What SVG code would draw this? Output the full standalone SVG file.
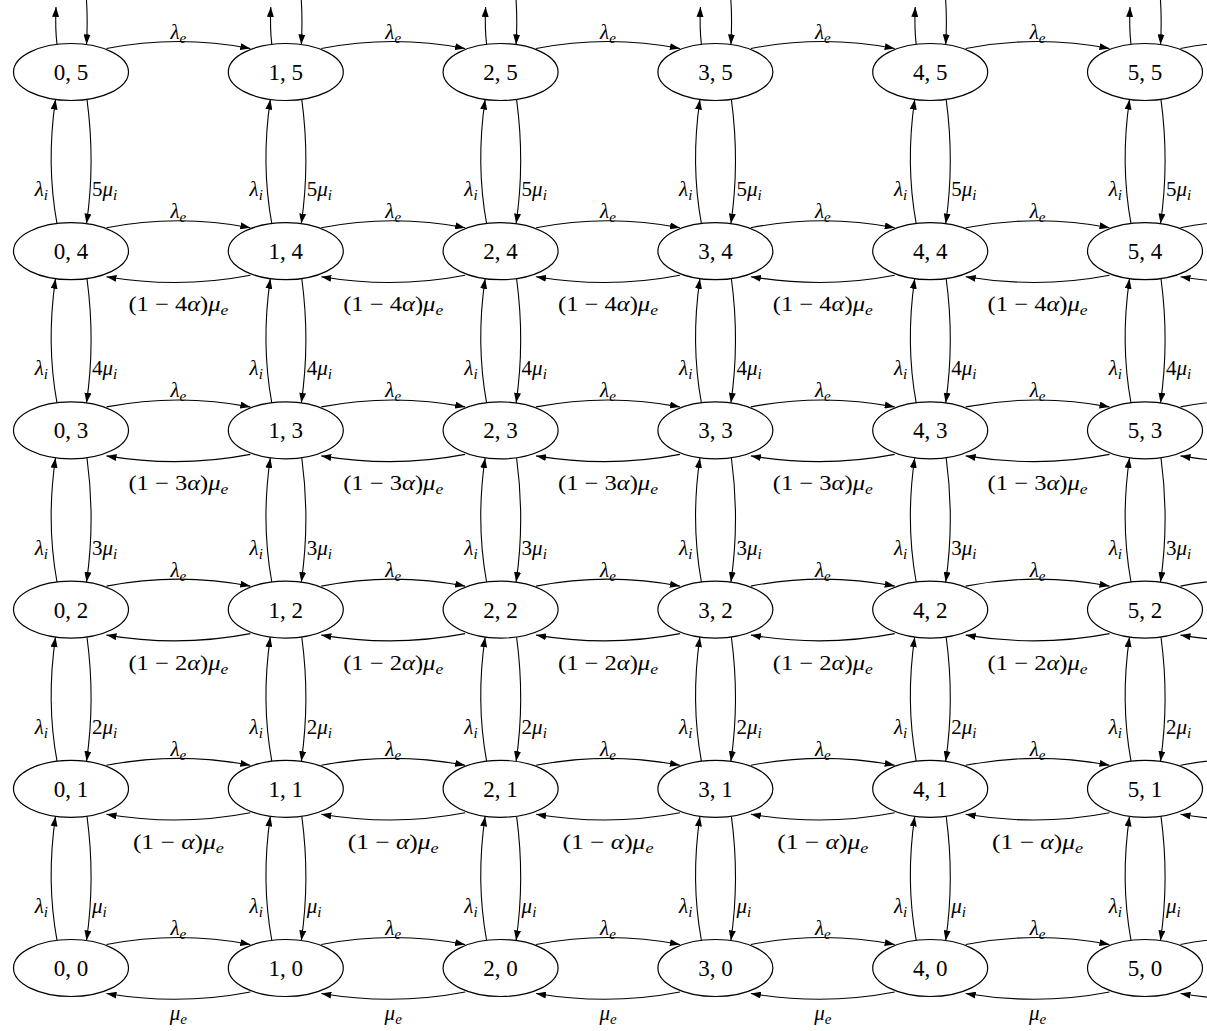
<svg xmlns="http://www.w3.org/2000/svg" width="1207" height="1031" viewBox="0 0 1207 1031">
<style>
.node ellipse{fill:#fff;stroke:#000;stroke-width:1.2}
.node text{font-family:"Liberation Serif","Times New Roman",serif;font-size:23px;text-anchor:middle;fill:#000}
#edges path{fill:none;stroke:#000;stroke-width:1.1;marker-end:url(#ah)}
.l{font-family:"Liberation Serif","Times New Roman",serif;font-style:italic;font-size:21px;fill:#000}
.s{font-size:15px}
.u{font-style:normal}
.m{text-anchor:middle}
.e{text-anchor:end}
</style>
<defs>
<marker id="ah" viewBox="0 0 10 7" refX="10" refY="3.5" markerWidth="10" markerHeight="7" markerUnits="userSpaceOnUse" orient="auto"><path d="M0,0 L10,3.5 L0,7 z" fill="#000"/></marker>
</defs>
<rect width="1207" height="1031" fill="#fff"/>
<g id="edges">
<path d="M57,44.4 c-1.5,-12 -1.5,-25 -1,-37.4"/><path d="M86,-6 c1.5,17 1.5,33 0.5,50.4"/>
<path d="M271.8,44.4 c-1.5,-12 -1.5,-25 -1,-37.4"/><path d="M300.8,-6 c1.5,17 1.5,33 0.5,50.4"/>
<path d="M486.6,44.4 c-1.5,-12 -1.5,-25 -1,-37.4"/><path d="M515.6,-6 c1.5,17 1.5,33 0.5,50.4"/>
<path d="M701.4,44.4 c-1.5,-12 -1.5,-25 -1,-37.4"/><path d="M730.4,-6 c1.5,17 1.5,33 0.5,50.4"/>
<path d="M916.2,44.4 c-1.5,-12 -1.5,-25 -1,-37.4"/><path d="M945.2,-6 c1.5,17 1.5,33 0.5,50.4"/>
<path d="M1131,44.4 c-1.5,-12 -1.5,-25 -1,-37.4"/><path d="M1160,-6 c1.5,17 1.5,33 0.5,50.4"/>
<path d="M57,940.4 c-7.5,-41 -7.5,-83 -1.5,-124"/><path d="M87,816.4 c5.5,41 5.5,83 -0.5,124"/>
<path d="M57,761.2 c-7.5,-41 -7.5,-83 -1.5,-124"/><path d="M87,637.2 c5.5,41 5.5,83 -0.5,124"/>
<path d="M57,582 c-7.5,-41 -7.5,-83 -1.5,-124"/><path d="M87,458 c5.5,41 5.5,83 -0.5,124"/>
<path d="M57,402.8 c-7.5,-41 -7.5,-83 -1.5,-124"/><path d="M87,278.8 c5.5,41 5.5,83 -0.5,124"/>
<path d="M57,223.6 c-7.5,-41 -7.5,-83 -1.5,-124"/><path d="M87,99.6 c5.5,41 5.5,83 -0.5,124"/>
<path d="M271.8,940.4 c-7.5,-41 -7.5,-83 -1.5,-124"/><path d="M301.8,816.4 c5.5,41 5.5,83 -0.5,124"/>
<path d="M271.8,761.2 c-7.5,-41 -7.5,-83 -1.5,-124"/><path d="M301.8,637.2 c5.5,41 5.5,83 -0.5,124"/>
<path d="M271.8,582 c-7.5,-41 -7.5,-83 -1.5,-124"/><path d="M301.8,458 c5.5,41 5.5,83 -0.5,124"/>
<path d="M271.8,402.8 c-7.5,-41 -7.5,-83 -1.5,-124"/><path d="M301.8,278.8 c5.5,41 5.5,83 -0.5,124"/>
<path d="M271.8,223.6 c-7.5,-41 -7.5,-83 -1.5,-124"/><path d="M301.8,99.6 c5.5,41 5.5,83 -0.5,124"/>
<path d="M486.6,940.4 c-7.5,-41 -7.5,-83 -1.5,-124"/><path d="M516.6,816.4 c5.5,41 5.5,83 -0.5,124"/>
<path d="M486.6,761.2 c-7.5,-41 -7.5,-83 -1.5,-124"/><path d="M516.6,637.2 c5.5,41 5.5,83 -0.5,124"/>
<path d="M486.6,582 c-7.5,-41 -7.5,-83 -1.5,-124"/><path d="M516.6,458 c5.5,41 5.5,83 -0.5,124"/>
<path d="M486.6,402.8 c-7.5,-41 -7.5,-83 -1.5,-124"/><path d="M516.6,278.8 c5.5,41 5.5,83 -0.5,124"/>
<path d="M486.6,223.6 c-7.5,-41 -7.5,-83 -1.5,-124"/><path d="M516.6,99.6 c5.5,41 5.5,83 -0.5,124"/>
<path d="M701.4,940.4 c-7.5,-41 -7.5,-83 -1.5,-124"/><path d="M731.4,816.4 c5.5,41 5.5,83 -0.5,124"/>
<path d="M701.4,761.2 c-7.5,-41 -7.5,-83 -1.5,-124"/><path d="M731.4,637.2 c5.5,41 5.5,83 -0.5,124"/>
<path d="M701.4,582 c-7.5,-41 -7.5,-83 -1.5,-124"/><path d="M731.4,458 c5.5,41 5.5,83 -0.5,124"/>
<path d="M701.4,402.8 c-7.5,-41 -7.5,-83 -1.5,-124"/><path d="M731.4,278.8 c5.5,41 5.5,83 -0.5,124"/>
<path d="M701.4,223.6 c-7.5,-41 -7.5,-83 -1.5,-124"/><path d="M731.4,99.6 c5.5,41 5.5,83 -0.5,124"/>
<path d="M916.2,940.4 c-7.5,-41 -7.5,-83 -1.5,-124"/><path d="M946.2,816.4 c5.5,41 5.5,83 -0.5,124"/>
<path d="M916.2,761.2 c-7.5,-41 -7.5,-83 -1.5,-124"/><path d="M946.2,637.2 c5.5,41 5.5,83 -0.5,124"/>
<path d="M916.2,582 c-7.5,-41 -7.5,-83 -1.5,-124"/><path d="M946.2,458 c5.5,41 5.5,83 -0.5,124"/>
<path d="M916.2,402.8 c-7.5,-41 -7.5,-83 -1.5,-124"/><path d="M946.2,278.8 c5.5,41 5.5,83 -0.5,124"/>
<path d="M916.2,223.6 c-7.5,-41 -7.5,-83 -1.5,-124"/><path d="M946.2,99.6 c5.5,41 5.5,83 -0.5,124"/>
<path d="M1131,940.4 c-7.5,-41 -7.5,-83 -1.5,-124"/><path d="M1161,816.4 c5.5,41 5.5,83 -0.5,124"/>
<path d="M1131,761.2 c-7.5,-41 -7.5,-83 -1.5,-124"/><path d="M1161,637.2 c5.5,41 5.5,83 -0.5,124"/>
<path d="M1131,582 c-7.5,-41 -7.5,-83 -1.5,-124"/><path d="M1161,458 c5.5,41 5.5,83 -0.5,124"/>
<path d="M1131,402.8 c-7.5,-41 -7.5,-83 -1.5,-124"/><path d="M1161,278.8 c5.5,41 5.5,83 -0.5,124"/>
<path d="M1131,223.6 c-7.5,-41 -7.5,-83 -1.5,-124"/><path d="M1161,99.6 c5.5,41 5.5,83 -0.5,124"/>
<path d="M106.5,944.5 c48,-9.3 95.8,-9.3 143.8,0"/><path d="M321.3,944.5 c48,-9.3 95.8,-9.3 143.8,0"/><path d="M536.1,944.5 c48,-9.3 95.8,-9.3 143.8,0"/><path d="M750.9,944.5 c48,-9.3 95.8,-9.3 143.8,0"/><path d="M965.7,944.5 c48,-9.3 95.8,-9.3 143.8,0"/><path d="M1180.5,944.5 c48,-9.3 95.8,-9.3 143.8,0"/>
<path d="M106.5,765.3 c48,-9.3 95.8,-9.3 143.8,0"/><path d="M321.3,765.3 c48,-9.3 95.8,-9.3 143.8,0"/><path d="M536.1,765.3 c48,-9.3 95.8,-9.3 143.8,0"/><path d="M750.9,765.3 c48,-9.3 95.8,-9.3 143.8,0"/><path d="M965.7,765.3 c48,-9.3 95.8,-9.3 143.8,0"/><path d="M1180.5,765.3 c48,-9.3 95.8,-9.3 143.8,0"/>
<path d="M106.5,586.1 c48,-9.3 95.8,-9.3 143.8,0"/><path d="M321.3,586.1 c48,-9.3 95.8,-9.3 143.8,0"/><path d="M536.1,586.1 c48,-9.3 95.8,-9.3 143.8,0"/><path d="M750.9,586.1 c48,-9.3 95.8,-9.3 143.8,0"/><path d="M965.7,586.1 c48,-9.3 95.8,-9.3 143.8,0"/><path d="M1180.5,586.1 c48,-9.3 95.8,-9.3 143.8,0"/>
<path d="M106.5,406.9 c48,-9.3 95.8,-9.3 143.8,0"/><path d="M321.3,406.9 c48,-9.3 95.8,-9.3 143.8,0"/><path d="M536.1,406.9 c48,-9.3 95.8,-9.3 143.8,0"/><path d="M750.9,406.9 c48,-9.3 95.8,-9.3 143.8,0"/><path d="M965.7,406.9 c48,-9.3 95.8,-9.3 143.8,0"/><path d="M1180.5,406.9 c48,-9.3 95.8,-9.3 143.8,0"/>
<path d="M106.5,227.7 c48,-9.3 95.8,-9.3 143.8,0"/><path d="M321.3,227.7 c48,-9.3 95.8,-9.3 143.8,0"/><path d="M536.1,227.7 c48,-9.3 95.8,-9.3 143.8,0"/><path d="M750.9,227.7 c48,-9.3 95.8,-9.3 143.8,0"/><path d="M965.7,227.7 c48,-9.3 95.8,-9.3 143.8,0"/><path d="M1180.5,227.7 c48,-9.3 95.8,-9.3 143.8,0"/>
<path d="M106.5,48.5 c48,-9.3 95.8,-9.3 143.8,0"/><path d="M321.3,48.5 c48,-9.3 95.8,-9.3 143.8,0"/><path d="M536.1,48.5 c48,-9.3 95.8,-9.3 143.8,0"/><path d="M750.9,48.5 c48,-9.3 95.8,-9.3 143.8,0"/><path d="M965.7,48.5 c48,-9.3 95.8,-9.3 143.8,0"/><path d="M1180.5,48.5 c48,-9.3 95.8,-9.3 143.8,0"/>
<path d="M250.3,992 c-48,9.3 -95.8,9.5 -143.8,1.5"/><path d="M465.1,992 c-48,9.3 -95.8,9.5 -143.8,1.5"/><path d="M679.9,992 c-48,9.3 -95.8,9.5 -143.8,1.5"/><path d="M894.7,992 c-48,9.3 -95.8,9.5 -143.8,1.5"/><path d="M1109.5,992 c-48,9.3 -95.8,9.5 -143.8,1.5"/><path d="M1324.3,992 c-48,9.3 -95.8,9.5 -143.8,1.5"/>
<path d="M250.3,812.8 c-48,9.3 -95.8,9.5 -143.8,1.5"/><path d="M465.1,812.8 c-48,9.3 -95.8,9.5 -143.8,1.5"/><path d="M679.9,812.8 c-48,9.3 -95.8,9.5 -143.8,1.5"/><path d="M894.7,812.8 c-48,9.3 -95.8,9.5 -143.8,1.5"/><path d="M1109.5,812.8 c-48,9.3 -95.8,9.5 -143.8,1.5"/><path d="M1324.3,812.8 c-48,9.3 -95.8,9.5 -143.8,1.5"/>
<path d="M250.3,633.6 c-48,9.3 -95.8,9.5 -143.8,1.5"/><path d="M465.1,633.6 c-48,9.3 -95.8,9.5 -143.8,1.5"/><path d="M679.9,633.6 c-48,9.3 -95.8,9.5 -143.8,1.5"/><path d="M894.7,633.6 c-48,9.3 -95.8,9.5 -143.8,1.5"/><path d="M1109.5,633.6 c-48,9.3 -95.8,9.5 -143.8,1.5"/><path d="M1324.3,633.6 c-48,9.3 -95.8,9.5 -143.8,1.5"/>
<path d="M250.3,454.4 c-48,9.3 -95.8,9.5 -143.8,1.5"/><path d="M465.1,454.4 c-48,9.3 -95.8,9.5 -143.8,1.5"/><path d="M679.9,454.4 c-48,9.3 -95.8,9.5 -143.8,1.5"/><path d="M894.7,454.4 c-48,9.3 -95.8,9.5 -143.8,1.5"/><path d="M1109.5,454.4 c-48,9.3 -95.8,9.5 -143.8,1.5"/><path d="M1324.3,454.4 c-48,9.3 -95.8,9.5 -143.8,1.5"/>
<path d="M250.3,275.2 c-48,9.3 -95.8,9.5 -143.8,1.5"/><path d="M465.1,275.2 c-48,9.3 -95.8,9.5 -143.8,1.5"/><path d="M679.9,275.2 c-48,9.3 -95.8,9.5 -143.8,1.5"/><path d="M894.7,275.2 c-48,9.3 -95.8,9.5 -143.8,1.5"/><path d="M1109.5,275.2 c-48,9.3 -95.8,9.5 -143.8,1.5"/><path d="M1324.3,275.2 c-48,9.3 -95.8,9.5 -143.8,1.5"/>
</g>
<g id="edge-labels">
<text class="l e" x="48" y="913">λ<tspan class="s" dy="4">i</tspan></text><text class="l" x="92" y="913">μ<tspan class="s" dy="4">i</tspan></text>
<text class="l e" x="262.8" y="913">λ<tspan class="s" dy="4">i</tspan></text><text class="l" x="306.8" y="913">μ<tspan class="s" dy="4">i</tspan></text>
<text class="l e" x="477.6" y="913">λ<tspan class="s" dy="4">i</tspan></text><text class="l" x="521.6" y="913">μ<tspan class="s" dy="4">i</tspan></text>
<text class="l e" x="692.4" y="913">λ<tspan class="s" dy="4">i</tspan></text><text class="l" x="736.4" y="913">μ<tspan class="s" dy="4">i</tspan></text>
<text class="l e" x="907.2" y="913">λ<tspan class="s" dy="4">i</tspan></text><text class="l" x="951.2" y="913">μ<tspan class="s" dy="4">i</tspan></text>
<text class="l e" x="1122" y="913">λ<tspan class="s" dy="4">i</tspan></text><text class="l" x="1166" y="913">μ<tspan class="s" dy="4">i</tspan></text>
<text class="l e" x="48" y="733.8">λ<tspan class="s" dy="4">i</tspan></text><text class="l" x="92" y="733.8"><tspan class="u">2</tspan>μ<tspan class="s" dy="4">i</tspan></text>
<text class="l e" x="262.8" y="733.8">λ<tspan class="s" dy="4">i</tspan></text><text class="l" x="306.8" y="733.8"><tspan class="u">2</tspan>μ<tspan class="s" dy="4">i</tspan></text>
<text class="l e" x="477.6" y="733.8">λ<tspan class="s" dy="4">i</tspan></text><text class="l" x="521.6" y="733.8"><tspan class="u">2</tspan>μ<tspan class="s" dy="4">i</tspan></text>
<text class="l e" x="692.4" y="733.8">λ<tspan class="s" dy="4">i</tspan></text><text class="l" x="736.4" y="733.8"><tspan class="u">2</tspan>μ<tspan class="s" dy="4">i</tspan></text>
<text class="l e" x="907.2" y="733.8">λ<tspan class="s" dy="4">i</tspan></text><text class="l" x="951.2" y="733.8"><tspan class="u">2</tspan>μ<tspan class="s" dy="4">i</tspan></text>
<text class="l e" x="1122" y="733.8">λ<tspan class="s" dy="4">i</tspan></text><text class="l" x="1166" y="733.8"><tspan class="u">2</tspan>μ<tspan class="s" dy="4">i</tspan></text>
<text class="l e" x="48" y="554.6">λ<tspan class="s" dy="4">i</tspan></text><text class="l" x="92" y="554.6"><tspan class="u">3</tspan>μ<tspan class="s" dy="4">i</tspan></text>
<text class="l e" x="262.8" y="554.6">λ<tspan class="s" dy="4">i</tspan></text><text class="l" x="306.8" y="554.6"><tspan class="u">3</tspan>μ<tspan class="s" dy="4">i</tspan></text>
<text class="l e" x="477.6" y="554.6">λ<tspan class="s" dy="4">i</tspan></text><text class="l" x="521.6" y="554.6"><tspan class="u">3</tspan>μ<tspan class="s" dy="4">i</tspan></text>
<text class="l e" x="692.4" y="554.6">λ<tspan class="s" dy="4">i</tspan></text><text class="l" x="736.4" y="554.6"><tspan class="u">3</tspan>μ<tspan class="s" dy="4">i</tspan></text>
<text class="l e" x="907.2" y="554.6">λ<tspan class="s" dy="4">i</tspan></text><text class="l" x="951.2" y="554.6"><tspan class="u">3</tspan>μ<tspan class="s" dy="4">i</tspan></text>
<text class="l e" x="1122" y="554.6">λ<tspan class="s" dy="4">i</tspan></text><text class="l" x="1166" y="554.6"><tspan class="u">3</tspan>μ<tspan class="s" dy="4">i</tspan></text>
<text class="l e" x="48" y="375.4">λ<tspan class="s" dy="4">i</tspan></text><text class="l" x="92" y="375.4"><tspan class="u">4</tspan>μ<tspan class="s" dy="4">i</tspan></text>
<text class="l e" x="262.8" y="375.4">λ<tspan class="s" dy="4">i</tspan></text><text class="l" x="306.8" y="375.4"><tspan class="u">4</tspan>μ<tspan class="s" dy="4">i</tspan></text>
<text class="l e" x="477.6" y="375.4">λ<tspan class="s" dy="4">i</tspan></text><text class="l" x="521.6" y="375.4"><tspan class="u">4</tspan>μ<tspan class="s" dy="4">i</tspan></text>
<text class="l e" x="692.4" y="375.4">λ<tspan class="s" dy="4">i</tspan></text><text class="l" x="736.4" y="375.4"><tspan class="u">4</tspan>μ<tspan class="s" dy="4">i</tspan></text>
<text class="l e" x="907.2" y="375.4">λ<tspan class="s" dy="4">i</tspan></text><text class="l" x="951.2" y="375.4"><tspan class="u">4</tspan>μ<tspan class="s" dy="4">i</tspan></text>
<text class="l e" x="1122" y="375.4">λ<tspan class="s" dy="4">i</tspan></text><text class="l" x="1166" y="375.4"><tspan class="u">4</tspan>μ<tspan class="s" dy="4">i</tspan></text>
<text class="l e" x="48" y="196.2">λ<tspan class="s" dy="4">i</tspan></text><text class="l" x="92" y="196.2"><tspan class="u">5</tspan>μ<tspan class="s" dy="4">i</tspan></text>
<text class="l e" x="262.8" y="196.2">λ<tspan class="s" dy="4">i</tspan></text><text class="l" x="306.8" y="196.2"><tspan class="u">5</tspan>μ<tspan class="s" dy="4">i</tspan></text>
<text class="l e" x="477.6" y="196.2">λ<tspan class="s" dy="4">i</tspan></text><text class="l" x="521.6" y="196.2"><tspan class="u">5</tspan>μ<tspan class="s" dy="4">i</tspan></text>
<text class="l e" x="692.4" y="196.2">λ<tspan class="s" dy="4">i</tspan></text><text class="l" x="736.4" y="196.2"><tspan class="u">5</tspan>μ<tspan class="s" dy="4">i</tspan></text>
<text class="l e" x="907.2" y="196.2">λ<tspan class="s" dy="4">i</tspan></text><text class="l" x="951.2" y="196.2"><tspan class="u">5</tspan>μ<tspan class="s" dy="4">i</tspan></text>
<text class="l e" x="1122" y="196.2">λ<tspan class="s" dy="4">i</tspan></text><text class="l" x="1166" y="196.2"><tspan class="u">5</tspan>μ<tspan class="s" dy="4">i</tspan></text>
<text class="l m" x="178.4" y="935">λ<tspan class="s" dy="4">e</tspan></text><text class="l m" x="393.2" y="935">λ<tspan class="s" dy="4">e</tspan></text><text class="l m" x="608" y="935">λ<tspan class="s" dy="4">e</tspan></text><text class="l m" x="822.8" y="935">λ<tspan class="s" dy="4">e</tspan></text><text class="l m" x="1037.6" y="935">λ<tspan class="s" dy="4">e</tspan></text>
<text class="l m" x="178.4" y="755.8">λ<tspan class="s" dy="4">e</tspan></text><text class="l m" x="393.2" y="755.8">λ<tspan class="s" dy="4">e</tspan></text><text class="l m" x="608" y="755.8">λ<tspan class="s" dy="4">e</tspan></text><text class="l m" x="822.8" y="755.8">λ<tspan class="s" dy="4">e</tspan></text><text class="l m" x="1037.6" y="755.8">λ<tspan class="s" dy="4">e</tspan></text>
<text class="l m" x="178.4" y="576.6">λ<tspan class="s" dy="4">e</tspan></text><text class="l m" x="393.2" y="576.6">λ<tspan class="s" dy="4">e</tspan></text><text class="l m" x="608" y="576.6">λ<tspan class="s" dy="4">e</tspan></text><text class="l m" x="822.8" y="576.6">λ<tspan class="s" dy="4">e</tspan></text><text class="l m" x="1037.6" y="576.6">λ<tspan class="s" dy="4">e</tspan></text>
<text class="l m" x="178.4" y="397.4">λ<tspan class="s" dy="4">e</tspan></text><text class="l m" x="393.2" y="397.4">λ<tspan class="s" dy="4">e</tspan></text><text class="l m" x="608" y="397.4">λ<tspan class="s" dy="4">e</tspan></text><text class="l m" x="822.8" y="397.4">λ<tspan class="s" dy="4">e</tspan></text><text class="l m" x="1037.6" y="397.4">λ<tspan class="s" dy="4">e</tspan></text>
<text class="l m" x="178.4" y="218.2">λ<tspan class="s" dy="4">e</tspan></text><text class="l m" x="393.2" y="218.2">λ<tspan class="s" dy="4">e</tspan></text><text class="l m" x="608" y="218.2">λ<tspan class="s" dy="4">e</tspan></text><text class="l m" x="822.8" y="218.2">λ<tspan class="s" dy="4">e</tspan></text><text class="l m" x="1037.6" y="218.2">λ<tspan class="s" dy="4">e</tspan></text>
<text class="l m" x="178.4" y="39">λ<tspan class="s" dy="4">e</tspan></text><text class="l m" x="393.2" y="39">λ<tspan class="s" dy="4">e</tspan></text><text class="l m" x="608" y="39">λ<tspan class="s" dy="4">e</tspan></text><text class="l m" x="822.8" y="39">λ<tspan class="s" dy="4">e</tspan></text><text class="l m" x="1037.6" y="39">λ<tspan class="s" dy="4">e</tspan></text>
<text class="l m" x="178.4" y="1020">μ<tspan class="s" dy="4">e</tspan></text><text class="l m" x="393.2" y="1020">μ<tspan class="s" dy="4">e</tspan></text><text class="l m" x="608" y="1020">μ<tspan class="s" dy="4">e</tspan></text><text class="l m" x="822.8" y="1020">μ<tspan class="s" dy="4">e</tspan></text><text class="l m" x="1037.6" y="1020">μ<tspan class="s" dy="4">e</tspan></text>
<text class="l m" x="178.4" y="848.8" textLength="91" lengthAdjust="spacingAndGlyphs"><tspan class="u">(1 − </tspan>α<tspan class="u">)</tspan>μ<tspan class="s" dy="4">e</tspan></text><text class="l m" x="393.2" y="848.8" textLength="91" lengthAdjust="spacingAndGlyphs"><tspan class="u">(1 − </tspan>α<tspan class="u">)</tspan>μ<tspan class="s" dy="4">e</tspan></text><text class="l m" x="608" y="848.8" textLength="91" lengthAdjust="spacingAndGlyphs"><tspan class="u">(1 − </tspan>α<tspan class="u">)</tspan>μ<tspan class="s" dy="4">e</tspan></text><text class="l m" x="822.8" y="848.8" textLength="91" lengthAdjust="spacingAndGlyphs"><tspan class="u">(1 − </tspan>α<tspan class="u">)</tspan>μ<tspan class="s" dy="4">e</tspan></text><text class="l m" x="1037.6" y="848.8" textLength="91" lengthAdjust="spacingAndGlyphs"><tspan class="u">(1 − </tspan>α<tspan class="u">)</tspan>μ<tspan class="s" dy="4">e</tspan></text>
<text class="l m" x="178.4" y="669.6" textLength="100" lengthAdjust="spacingAndGlyphs"><tspan class="u">(1 − 2</tspan>α<tspan class="u">)</tspan>μ<tspan class="s" dy="4">e</tspan></text><text class="l m" x="393.2" y="669.6" textLength="100" lengthAdjust="spacingAndGlyphs"><tspan class="u">(1 − 2</tspan>α<tspan class="u">)</tspan>μ<tspan class="s" dy="4">e</tspan></text><text class="l m" x="608" y="669.6" textLength="100" lengthAdjust="spacingAndGlyphs"><tspan class="u">(1 − 2</tspan>α<tspan class="u">)</tspan>μ<tspan class="s" dy="4">e</tspan></text><text class="l m" x="822.8" y="669.6" textLength="100" lengthAdjust="spacingAndGlyphs"><tspan class="u">(1 − 2</tspan>α<tspan class="u">)</tspan>μ<tspan class="s" dy="4">e</tspan></text><text class="l m" x="1037.6" y="669.6" textLength="100" lengthAdjust="spacingAndGlyphs"><tspan class="u">(1 − 2</tspan>α<tspan class="u">)</tspan>μ<tspan class="s" dy="4">e</tspan></text>
<text class="l m" x="178.4" y="490.4" textLength="100" lengthAdjust="spacingAndGlyphs"><tspan class="u">(1 − 3</tspan>α<tspan class="u">)</tspan>μ<tspan class="s" dy="4">e</tspan></text><text class="l m" x="393.2" y="490.4" textLength="100" lengthAdjust="spacingAndGlyphs"><tspan class="u">(1 − 3</tspan>α<tspan class="u">)</tspan>μ<tspan class="s" dy="4">e</tspan></text><text class="l m" x="608" y="490.4" textLength="100" lengthAdjust="spacingAndGlyphs"><tspan class="u">(1 − 3</tspan>α<tspan class="u">)</tspan>μ<tspan class="s" dy="4">e</tspan></text><text class="l m" x="822.8" y="490.4" textLength="100" lengthAdjust="spacingAndGlyphs"><tspan class="u">(1 − 3</tspan>α<tspan class="u">)</tspan>μ<tspan class="s" dy="4">e</tspan></text><text class="l m" x="1037.6" y="490.4" textLength="100" lengthAdjust="spacingAndGlyphs"><tspan class="u">(1 − 3</tspan>α<tspan class="u">)</tspan>μ<tspan class="s" dy="4">e</tspan></text>
<text class="l m" x="178.4" y="311.2" textLength="100" lengthAdjust="spacingAndGlyphs"><tspan class="u">(1 − 4</tspan>α<tspan class="u">)</tspan>μ<tspan class="s" dy="4">e</tspan></text><text class="l m" x="393.2" y="311.2" textLength="100" lengthAdjust="spacingAndGlyphs"><tspan class="u">(1 − 4</tspan>α<tspan class="u">)</tspan>μ<tspan class="s" dy="4">e</tspan></text><text class="l m" x="608" y="311.2" textLength="100" lengthAdjust="spacingAndGlyphs"><tspan class="u">(1 − 4</tspan>α<tspan class="u">)</tspan>μ<tspan class="s" dy="4">e</tspan></text><text class="l m" x="822.8" y="311.2" textLength="100" lengthAdjust="spacingAndGlyphs"><tspan class="u">(1 − 4</tspan>α<tspan class="u">)</tspan>μ<tspan class="s" dy="4">e</tspan></text><text class="l m" x="1037.6" y="311.2" textLength="100" lengthAdjust="spacingAndGlyphs"><tspan class="u">(1 − 4</tspan>α<tspan class="u">)</tspan>μ<tspan class="s" dy="4">e</tspan></text>
</g>
<g id="nodes">
<g id="n0_5" class="node"><ellipse cx="71" cy="72" rx="57.5" ry="28.5"/><text x="71" y="80">0, 5</text></g>
<g id="n1_5" class="node"><ellipse cx="285.8" cy="72" rx="57.5" ry="28.5"/><text x="285.8" y="80">1, 5</text></g>
<g id="n2_5" class="node"><ellipse cx="500.6" cy="72" rx="57.5" ry="28.5"/><text x="500.6" y="80">2, 5</text></g>
<g id="n3_5" class="node"><ellipse cx="715.4" cy="72" rx="57.5" ry="28.5"/><text x="715.4" y="80">3, 5</text></g>
<g id="n4_5" class="node"><ellipse cx="930.2" cy="72" rx="57.5" ry="28.5"/><text x="930.2" y="80">4, 5</text></g>
<g id="n5_5" class="node"><ellipse cx="1145" cy="72" rx="57.5" ry="28.5"/><text x="1145" y="80">5, 5</text></g>
<g id="n0_4" class="node"><ellipse cx="71" cy="251.2" rx="57.5" ry="28.5"/><text x="71" y="259.2">0, 4</text></g>
<g id="n1_4" class="node"><ellipse cx="285.8" cy="251.2" rx="57.5" ry="28.5"/><text x="285.8" y="259.2">1, 4</text></g>
<g id="n2_4" class="node"><ellipse cx="500.6" cy="251.2" rx="57.5" ry="28.5"/><text x="500.6" y="259.2">2, 4</text></g>
<g id="n3_4" class="node"><ellipse cx="715.4" cy="251.2" rx="57.5" ry="28.5"/><text x="715.4" y="259.2">3, 4</text></g>
<g id="n4_4" class="node"><ellipse cx="930.2" cy="251.2" rx="57.5" ry="28.5"/><text x="930.2" y="259.2">4, 4</text></g>
<g id="n5_4" class="node"><ellipse cx="1145" cy="251.2" rx="57.5" ry="28.5"/><text x="1145" y="259.2">5, 4</text></g>
<g id="n0_3" class="node"><ellipse cx="71" cy="430.4" rx="57.5" ry="28.5"/><text x="71" y="438.4">0, 3</text></g>
<g id="n1_3" class="node"><ellipse cx="285.8" cy="430.4" rx="57.5" ry="28.5"/><text x="285.8" y="438.4">1, 3</text></g>
<g id="n2_3" class="node"><ellipse cx="500.6" cy="430.4" rx="57.5" ry="28.5"/><text x="500.6" y="438.4">2, 3</text></g>
<g id="n3_3" class="node"><ellipse cx="715.4" cy="430.4" rx="57.5" ry="28.5"/><text x="715.4" y="438.4">3, 3</text></g>
<g id="n4_3" class="node"><ellipse cx="930.2" cy="430.4" rx="57.5" ry="28.5"/><text x="930.2" y="438.4">4, 3</text></g>
<g id="n5_3" class="node"><ellipse cx="1145" cy="430.4" rx="57.5" ry="28.5"/><text x="1145" y="438.4">5, 3</text></g>
<g id="n0_2" class="node"><ellipse cx="71" cy="609.6" rx="57.5" ry="28.5"/><text x="71" y="617.6">0, 2</text></g>
<g id="n1_2" class="node"><ellipse cx="285.8" cy="609.6" rx="57.5" ry="28.5"/><text x="285.8" y="617.6">1, 2</text></g>
<g id="n2_2" class="node"><ellipse cx="500.6" cy="609.6" rx="57.5" ry="28.5"/><text x="500.6" y="617.6">2, 2</text></g>
<g id="n3_2" class="node"><ellipse cx="715.4" cy="609.6" rx="57.5" ry="28.5"/><text x="715.4" y="617.6">3, 2</text></g>
<g id="n4_2" class="node"><ellipse cx="930.2" cy="609.6" rx="57.5" ry="28.5"/><text x="930.2" y="617.6">4, 2</text></g>
<g id="n5_2" class="node"><ellipse cx="1145" cy="609.6" rx="57.5" ry="28.5"/><text x="1145" y="617.6">5, 2</text></g>
<g id="n0_1" class="node"><ellipse cx="71" cy="788.8" rx="57.5" ry="28.5"/><text x="71" y="796.8">0, 1</text></g>
<g id="n1_1" class="node"><ellipse cx="285.8" cy="788.8" rx="57.5" ry="28.5"/><text x="285.8" y="796.8">1, 1</text></g>
<g id="n2_1" class="node"><ellipse cx="500.6" cy="788.8" rx="57.5" ry="28.5"/><text x="500.6" y="796.8">2, 1</text></g>
<g id="n3_1" class="node"><ellipse cx="715.4" cy="788.8" rx="57.5" ry="28.5"/><text x="715.4" y="796.8">3, 1</text></g>
<g id="n4_1" class="node"><ellipse cx="930.2" cy="788.8" rx="57.5" ry="28.5"/><text x="930.2" y="796.8">4, 1</text></g>
<g id="n5_1" class="node"><ellipse cx="1145" cy="788.8" rx="57.5" ry="28.5"/><text x="1145" y="796.8">5, 1</text></g>
<g id="n0_0" class="node"><ellipse cx="71" cy="968" rx="57.5" ry="28.5"/><text x="71" y="976">0, 0</text></g>
<g id="n1_0" class="node"><ellipse cx="285.8" cy="968" rx="57.5" ry="28.5"/><text x="285.8" y="976">1, 0</text></g>
<g id="n2_0" class="node"><ellipse cx="500.6" cy="968" rx="57.5" ry="28.5"/><text x="500.6" y="976">2, 0</text></g>
<g id="n3_0" class="node"><ellipse cx="715.4" cy="968" rx="57.5" ry="28.5"/><text x="715.4" y="976">3, 0</text></g>
<g id="n4_0" class="node"><ellipse cx="930.2" cy="968" rx="57.5" ry="28.5"/><text x="930.2" y="976">4, 0</text></g>
<g id="n5_0" class="node"><ellipse cx="1145" cy="968" rx="57.5" ry="28.5"/><text x="1145" y="976">5, 0</text></g>
</g>
</svg>
